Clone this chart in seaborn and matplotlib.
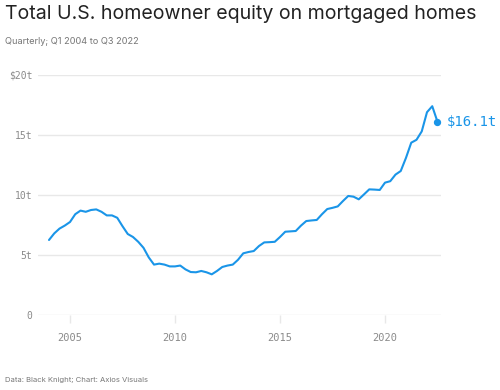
import pandas as pd
import numpy as np
import matplotlib.pyplot as plt
import seaborn as sns

# Equity, trillions of dollars, quarterly Q1 2004 .. Q3 2022
start_year = 2004
equity = [6.25, 6.8, 7.2, 7.45, 7.75, 8.4, 8.7, 8.6, 8.75, 8.8,
          8.6, 8.3, 8.3, 8.1, 7.4, 6.75, 6.5, 6.1, 5.6, 4.8,
          4.2, 4.28, 4.2, 4.05, 4.05, 4.12, 3.8, 3.58, 3.56, 3.67,
          3.56, 3.39, 3.67, 4.0, 4.12, 4.2, 4.6, 5.14, 5.25, 5.33,
          5.75, 6.05, 6.07, 6.1, 6.5, 6.94, 6.97, 7.0, 7.45, 7.83,
          7.88, 7.92, 8.4, 8.83, 8.93, 9.05, 9.5, 9.92, 9.86, 9.64,
          10.05, 10.47, 10.45, 10.42, 11.03, 11.15, 11.7, 12.0, 13.1, 14.36,
          14.6, 15.3, 16.9, 17.4, 16.1]
y_ticks = [0, 5, 10, 15, 20]
y_labels = ["0", "5t", "10t", "15t", "$20t"]
x_ticks = [2005, 2010, 2015, 2020]
last_label = "$16.1t"

df = pd.DataFrame({"year": start_year + np.arange(len(equity)) / 4,
                   "equity": equity})

blue = "#1a95e8"
grid = "#e8e8e8"
gray = "#8a8a8a"

sns.set_theme(style="white")
plt.rcParams["font.family"] = ["Inter", "DejaVu Sans"]

fig = plt.figure(figsize=(5, 3.9), dpi=100)
ax = fig.add_axes([0.076, 0.1923, 0.806, 0.6154])

sns.lineplot(data=df, x="year", y="equity", color=blue, lw=1.5, ax=ax)
last = df.iloc[-1]
ax.scatter([last["year"]], [last["equity"]], s=18, color=blue, zorder=5,
           clip_on=False)
ax.annotate(last_label, (last["year"], last["equity"]), xytext=(7, 0),
            textcoords="offset points", va="center", ha="left",
            color=blue, fontsize=10, family="DejaVu Sans Mono")

ax.set_xlim(2003.476, 2022.667)
ax.set_ylim(0, 20)
ax.set_yticks(y_ticks)
ax.set_yticklabels(y_labels, family="DejaVu Sans Mono", color=gray, fontsize=7)
ax.set_xticks(x_ticks)
ax.set_xticklabels([str(x) for x in x_ticks], family="DejaVu Sans Mono",
                   color=gray, fontsize=7.5)
ax.tick_params(axis="y", length=0, pad=4)
ax.tick_params(axis="x", length=6, width=1, color=grid, pad=7,
               direction="out", bottom=True)
ax.grid(axis="y", color=grid, lw=1)
ax.set_xlabel("")
ax.set_ylabel("")
sns.despine(ax=ax, left=True, bottom=True)

fig.text(0.01, 0.987, "Total U.S. homeowner equity on mortgaged homes",
         ha="left", va="top", fontsize=14.1, color="#222222")
fig.text(0.01, 0.893, "Quarterly; Q1 2004 to Q3 2022", ha="left",
         va="center", fontsize=6.65, color="#777777")
fig.text(0.01, 0.026, "Data: Black Knight; Chart: Axios Visuals", ha="left",
         va="center", fontsize=5.5, color="#777777")

fig.savefig("out.png", dpi=100)
